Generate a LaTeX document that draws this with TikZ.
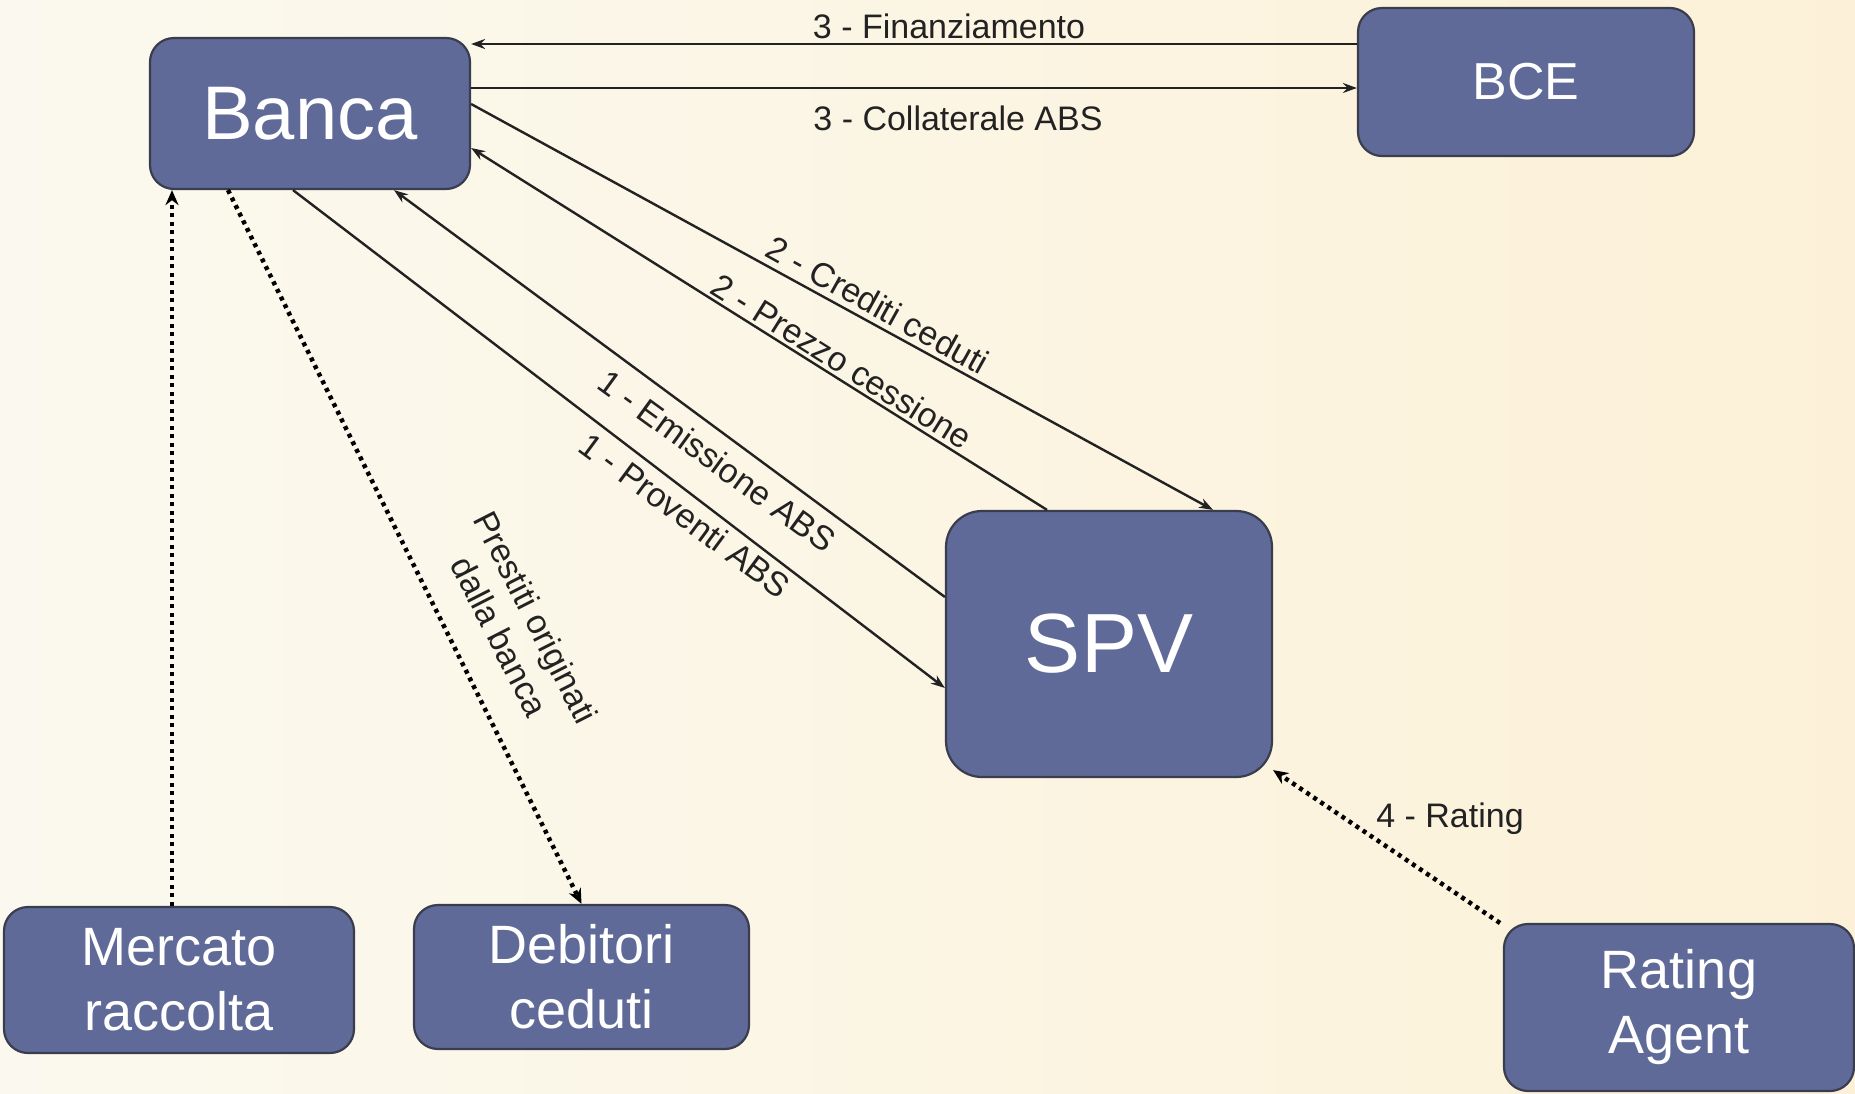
\documentclass[tikz,border=0pt]{standalone}
\usepackage{fontspec}
\setmainfont{Liberation Sans}
\usetikzlibrary{arrows.meta,calc}
\definecolor{boxfill}{HTML}{5F6A98}
\definecolor{boxline}{HTML}{3A3D4E}
\definecolor{bgL}{HTML}{FBF9EF}
\definecolor{bgR}{HTML}{FCF1D8}
\definecolor{ink}{HTML}{222222}
\begin{document}
\begin{tikzpicture}[x=1pt,y=-1pt,
  box/.style={draw=boxline, line width=2.2pt, fill=boxfill, rounded corners=#1,
    text=white, align=center, inner sep=0pt},
  box/.default=24pt,
  flow/.style={draw=ink, line width=2.4pt, -{Stealth[length=14pt,width=10pt]}},
  dotflow/.style={draw=black, line width=4.5pt, dash pattern=on 4pt off 4.5pt,
    -{Stealth[length=15pt,width=13pt]}},
  lbl/.style={text=ink, font=\fontsize{34}{41}\selectfont, inner sep=0pt, align=center}]

\shade[left color=bgL, right color=bgR] (0,0) rectangle (1855,1093);
\useasboundingbox (0,0) rectangle (1855,1093);

% boxes
\node[box, minimum width=320pt, minimum height=151pt, font=\fontsize{76}{80}\selectfont]
  (Banca) at (310,113.5) {Banca};
\node[box, minimum width=336pt, minimum height=148pt, font=\fontsize{52}{58}\selectfont]
  (BCE) at (1526,82) {BCE};
\node[box=36pt, minimum width=326pt, minimum height=266pt, font=\fontsize{84}{90}\selectfont]
  (SPV) at (1109,644) {SPV};
\node[box, minimum width=350pt, minimum height=146pt, font=\fontsize{54}{65}\selectfont]
  (Mercato) at (179,980) {Mercato\\raccolta};
\node[box, minimum width=335pt, minimum height=144pt, font=\fontsize{54}{65}\selectfont]
  (Debitori) at (581.5,977) {Debitori\\ceduti};
\node[box, minimum width=350pt, minimum height=167pt, font=\fontsize{54}{65}\selectfont]
  (Rating) at (1679,1007.5) {Rating\\Agent};

% solid connectors
\draw[flow] (BCE.west |- 0,44) -- (Banca.east |- 0,44);
\draw[flow] (Banca.east |- 0,88) -- (BCE.west |- 0,88);
\draw[flow] (Banca.east |- 0,104) -- (SPV.north -| 1213,0);
\draw[flow] (SPV.north -| 1047,0) -- (Banca.east |- 0,148);
\draw[flow] (SPV.west |- 0,597) -- (Banca.south -| 394,0);
\draw[flow] (Banca.south -| 293,0) -- (SPV.west |- 0,688);

% dotted connectors
\draw[dotflow] (Mercato.north -| 172,0) -- (Banca.south -| 172,0);
\draw[dotflow] (Banca.south -| 228,0) -- (Debitori.north);
\coordinate (ratingStart) at (1500,923);
\draw[dotflow] (ratingStart) -- ([yshift=8pt]SPV.south east);

% labels
\node[lbl] (lFin) at (949,26) {3 - Finanziamento};
\node[lbl] (lColl) at (958,118) {3 - Collaterale ABS};
\node[lbl, rotate=-29] (lCred) at (878,305) {2 - Crediti ceduti};
\node[lbl, rotate=-32] (lPrez) at (842,361) {2 - Prezzo cessione};
\node[lbl, rotate=-36] (lEmis) at (717,461) {1 - Emissione ABS};
\node[lbl, rotate=-36.5] (lProv) at (685,515) {1 - Proventi ABS};
\node[lbl, rotate=-63] (lPrest) at (518,627) {Prestiti originati\\dalla banca};
\node[lbl] (lRat) at (1450,819) {4 - Rating};
\end{tikzpicture}
\end{document}
